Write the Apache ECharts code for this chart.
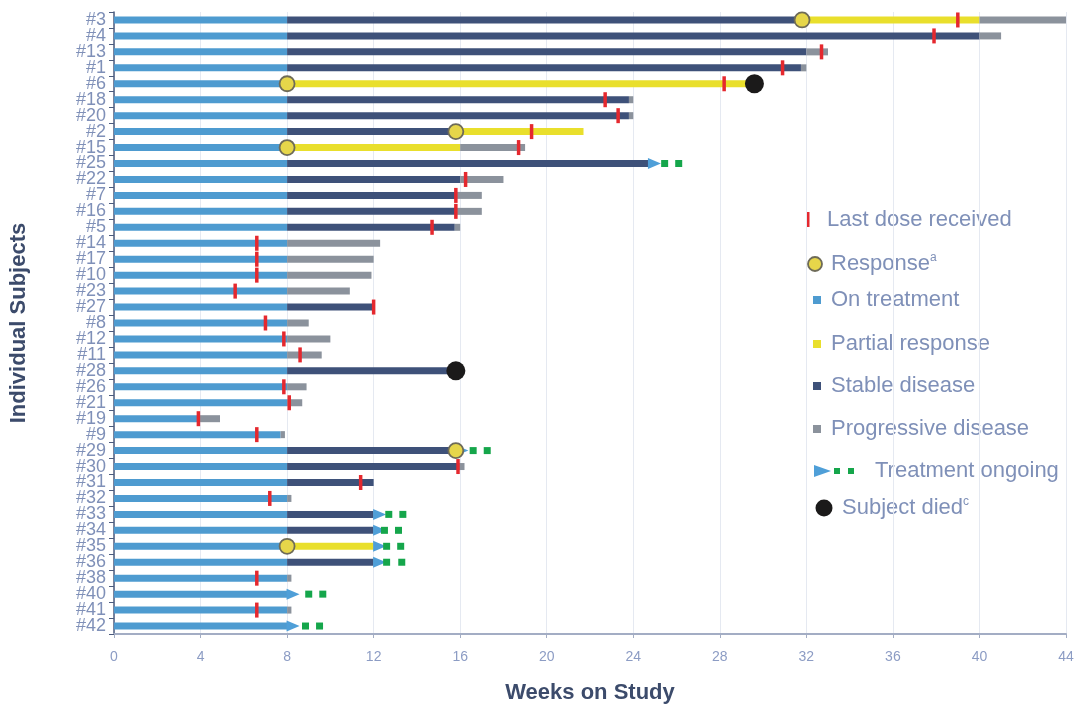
<!DOCTYPE html>
<html>
<head>
<meta charset="utf-8">
<script src="https://cdn.jsdelivr.net/npm/echarts@6/dist/echarts.min.js"></script>
<style>
html,body{margin:0;padding:0;background:#fff;}
#chart{width:1077px;height:709px;}
</style>
</head>
<body>
<div id="chart"></div>
<script>
// subjects, top to bottom
var subjects = ['#3','#4','#13','#1','#6','#18','#20','#2','#15','#25','#22','#7','#16','#5','#14','#17','#10','#23','#27',
	'#8','#12','#11','#28','#26','#21','#19','#9','#29','#30','#31','#32','#33','#34','#35','#36','#38','#40','#41','#42'];

// phase durations in weeks (stacked in this order)
var onTreatment     = [8,8,8,8,8,8,8,8,8,8,8,8,8,8,8,8,8,8,8, 8,8,8,8,8,8,3.9,7.7,8,8,8,8,8,8,8,8,8,8,8,8];
var stableDisease   = [23.8,32,24,23.75,0,15.8,15.8,7.8,0,16.7,8,7.85,7.85,7.75,0,0,0,0,4, 0,0,0,7.7,0,0,0,0,7.8,7.9,4,0,4,4,0,4,0,0,0,0];
var partialResponse = [8.2,0,0,0,21.5,0,0,5.9,8,0,0,0,0,0,0,0,0,0,0, 0,0,0,0,0,0,0,0,0,0,0,0,0,0,4,0,0,0,0,0];
var progressive     = [4,1,1,0.25,0,0.2,0.2,0,3,0,2,1.15,1.15,0.25,4.3,4,3.9,2.9,0, 1,2,1.6,0,0.9,0.7,1,0.2,0,0.3,0,0.2,0,0,0,0,0.2,0,0.2,0];

// last dose received (week), null = not marked
var lastDose = [39,37.9,32.7,30.9,28.2,22.7,23.3,19.3,18.7,null,16.25,15.8,15.8,14.7,6.6,6.6,6.6,5.6,12,
	7,7.85,8.6,null,7.85,8.1,3.9,6.6,null,15.9,11.4,7.2,null,null,null,null,6.6,null,6.6,null];

var responseSubjects = ['#3','#6','#2','#15','#29','#35'];
var responseWeek     = [31.8,8,15.8,8,15.8,8];

var diedSubjects = ['#6','#28'];
var diedWeek     = [29.6,15.8];

var ongoingSubjects = ['#25','#29','#33','#34','#35','#36','#40','#42'];
var ongoingEnd      = [24.7,15.8,12,12,12,12,8,8];
var ongoingDot1     = [25.45,16.6,12.7,12.5,12.6,12.6,9.0,8.85];
var ongoingDot2     = [26.1,17.25,13.35,13.15,13.25,13.3,9.65,9.5];

var weekTicks = [0,4,8,12,16,20,24,28,32,36,40,44];

var colBlue = '#4e9bd0', colNavy = '#3e5179', colYellow = '#e9df2c', colGray = '#8b929c';
var colRed = '#e5282e', colGreen = '#15a64b', colText = '#7f90b8', colTitle = '#3c4b6b';

function pairs(names, weeks){
	var out = [];
	for (var i = 0; i < names.length; i++) out.push([weeks[i], names[i]]);
	return out;
}
var lastDoseData = [];
subjects.forEach(function(s, i){ if (lastDose[i] != null) lastDoseData.push([lastDose[i], s]); });

var chart = echarts.init(document.getElementById('chart'));

function barSeries(name, data, color){
	return {
		name: name, type: 'bar', stack: 'total', data: data, barWidth: 7,
		itemStyle: {color: color}, silent: true
	};
}

var legendFont = '22px "Liberation Sans", Arial, sans-serif';
function legendText(x, y, txt){
	return {type: 'text', x: x, y: y, style: {text: txt, font: legendFont, fill: colText, verticalAlign: 'middle'}};
}
var supRich = {
	n: {font: legendFont, fill: colText, lineHeight: 24},
	s: {font: '12px "Liberation Sans", Arial, sans-serif', fill: colText, verticalAlign: 'top', lineHeight: 24, padding: [0,0,10,0]}
};

var option = {
	animation: false,
	grid: {left: 114, right: 11, top: 12, bottom: 74, containLabel: false},
	xAxis: {
		type: 'value', min: 0, max: 44, interval: 4,
		name: 'Weeks on Study', nameLocation: 'middle', nameGap: 48,
		nameTextStyle: {fontSize: 22, fontWeight: 'bold', color: colTitle, fontFamily: '"Liberation Sans", Arial, sans-serif'},
		axisLine: {show: true, lineStyle: {color: '#a3adc4', width: 2}},
		axisTick: {show: true, length: 4, lineStyle: {color: '#a3adc4'}},
		axisLabel: {
			color: '#8c9cc4', fontSize: 14, margin: 16,
			fontFamily: '"Liberation Sans Narrow", "Liberation Sans", sans-serif',
			formatter: function(v){ return weekTicks.indexOf(v) >= 0 ? String(v) : ''; }
		},
		splitLine: {show: true, lineStyle: {color: '#e5e9f1', width: 1}}
	},
	yAxis: {
		type: 'category', data: subjects, inverse: true,
		name: 'Individual Subjects', nameLocation: 'middle', nameGap: 84, nameRotate: 90,
		nameTextStyle: {fontSize: 22, fontWeight: 'bold', color: colTitle, fontFamily: '"Liberation Sans", Arial, sans-serif'},
		axisLine: {show: true, lineStyle: {color: '#4b5b7e', width: 1.5}},
		axisTick: {show: true, length: 5, lineStyle: {color: '#4b5b7e'}},
		axisLabel: {interval: 0, color: colText, fontSize: 18, margin: 8, fontFamily: '"Liberation Sans", Arial, sans-serif'},
		splitLine: {show: false}
	},
	series: [
		barSeries('On treatment', onTreatment, colBlue),
		barSeries('Stable disease', stableDisease, colNavy),
		barSeries('Partial response', partialResponse, colYellow),
		barSeries('Progressive disease', progressive, colGray),
		{
			name: 'Treatment ongoing', type: 'scatter', data: pairs(ongoingSubjects, ongoingEnd),
			symbol: 'path://M0,0L12,5L0,10Z', symbolSize: [13, 11], symbolOffset: [6, 0],
			itemStyle: {color: '#4f9fd8', opacity: 1}, silent: true, z: 3
		},
		{
			name: 'dots1', type: 'scatter', data: pairs(ongoingSubjects, ongoingDot1),
			symbol: 'rect', symbolSize: 7, itemStyle: {color: colGreen, opacity: 1}, silent: true, z: 3
		},
		{
			name: 'dots2', type: 'scatter', data: pairs(ongoingSubjects, ongoingDot2),
			symbol: 'rect', symbolSize: 7, itemStyle: {color: colGreen, opacity: 1}, silent: true, z: 3
		},
		{
			name: 'Last dose received', type: 'scatter', data: lastDoseData,
			symbol: 'rect', symbolSize: [3.5, 15], itemStyle: {color: colRed, opacity: 1}, silent: true, z: 4
		},
		{
			name: 'Response', type: 'scatter', data: pairs(responseSubjects, responseWeek),
			symbol: 'circle', symbolSize: 15,
			itemStyle: {color: '#e6d64a', borderColor: '#6e6b58', borderWidth: 1.8, opacity: 1}, silent: true, z: 5
		},
		{
			name: 'Subject died', type: 'scatter', data: pairs(diedSubjects, diedWeek),
			symbol: 'circle', symbolSize: 19, itemStyle: {color: '#1b1a1a', opacity: 1}, silent: true, z: 5
		}
	],
	graphic: [
		{type: 'rect', shape: {x: 806, y: 212, width: 3.5, height: 15}, style: {fill: colRed}},
		legendText(827, 220, 'Last dose received'),
		{type: 'circle', shape: {cx: 815, cy: 264, r: 7}, style: {fill: '#e6d64a', stroke: '#6e6b58', lineWidth: 1.8}},
		{type: 'text', x: 831, y: 264, style: {text: '{n|Response}{s|a}', verticalAlign: 'middle', fill: colText, rich: supRich}},
		{type: 'rect', shape: {x: 813, y: 296, width: 8, height: 8}, style: {fill: colBlue}},
		legendText(831, 300, 'On treatment'),
		{type: 'rect', shape: {x: 813, y: 340, width: 8, height: 8}, style: {fill: colYellow}},
		legendText(831, 344, 'Partial response'),
		{type: 'rect', shape: {x: 813, y: 382, width: 8, height: 8}, style: {fill: colNavy}},
		legendText(831, 386, 'Stable disease'),
		{type: 'rect', shape: {x: 813, y: 425, width: 8, height: 8}, style: {fill: colGray}},
		legendText(831, 429, 'Progressive disease'),
		{type: 'polygon', shape: {points: [[814, 465], [831, 471], [814, 477]]}, style: {fill: '#4f9fd8'}},
		{type: 'rect', shape: {x: 834, y: 468, width: 6, height: 6}, style: {fill: colGreen}},
		{type: 'rect', shape: {x: 848, y: 468, width: 6, height: 6}, style: {fill: colGreen}},
		legendText(875, 471, 'Treatment ongoing'),
		{type: 'circle', shape: {cx: 824, cy: 508, r: 8.5}, style: {fill: '#1b1a1a'}},
		{type: 'text', x: 842, y: 508, style: {text: '{n|Subject died}{s|c}', verticalAlign: 'middle', fill: colText, rich: supRich}}
	]
};
chart.setOption(option);
window.addEventListener('resize', function(){ chart.resize(); });
</script>
</body>
</html>
